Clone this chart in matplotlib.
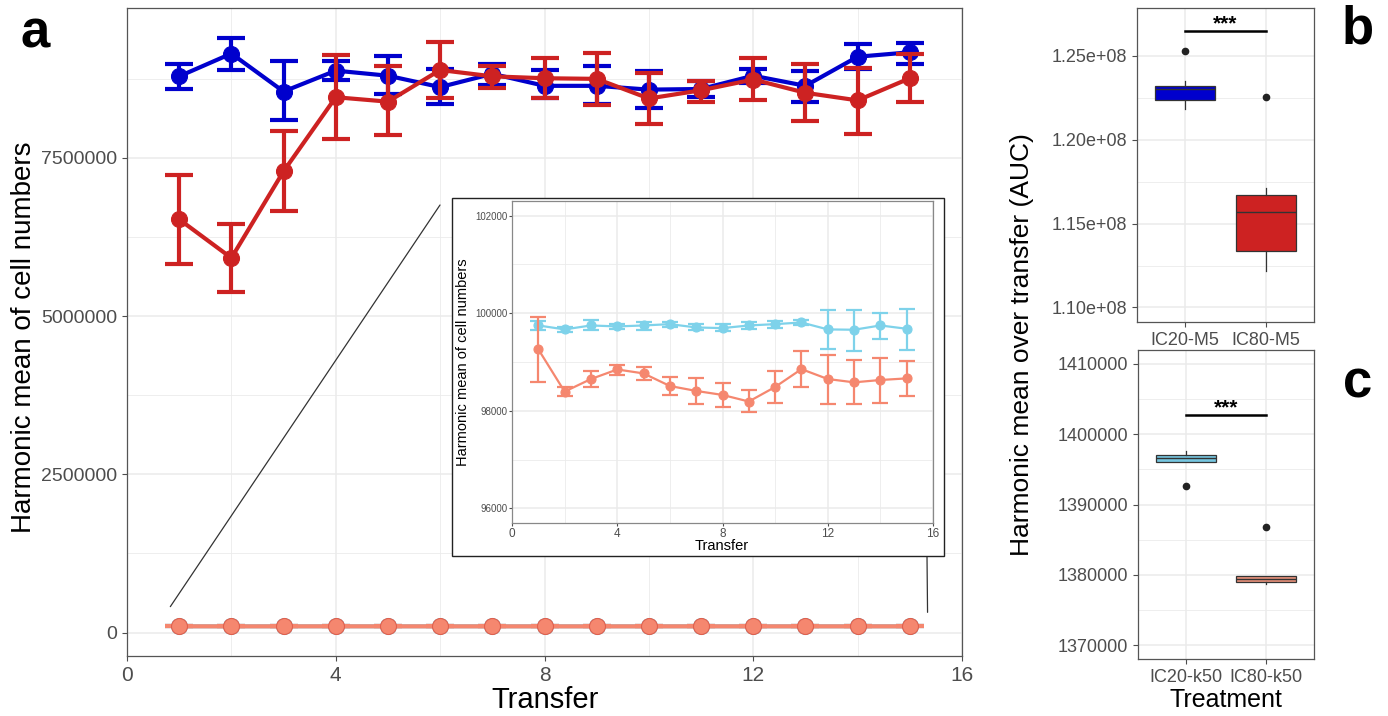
import matplotlib
matplotlib.use("Agg")
import matplotlib.pyplot as plt
from matplotlib.patches import Rectangle, ConnectionPatch
from matplotlib.ticker import FixedLocator
import numpy as np

plt.rcParams['font.family'] = ['Liberation Sans', 'DejaVu Sans']

# ---------------- data ----------------
transfer = list(range(1, 16))

# M5 medium: harmonic mean of cell numbers per transfer (mean, lower, upper)
ic20_m5_mean = [8.79e6, 9.15e6, 8.55e6, 8.88e6, 8.80e6, 8.62e6, 8.83e6, 8.64e6,
                8.64e6, 8.58e6, 8.59e6, 8.80e6, 8.64e6, 9.10e6, 9.17e6]
ic20_m5_lo = [8.59e6, 8.89e6, 8.10e6, 8.74e6, 8.51e6, 8.35e6, 8.66e6, 8.45e6,
              8.35e6, 8.29e6, 8.46e6, 8.69e6, 8.39e6, 8.90e6, 8.99e6]
ic20_m5_hi = [8.99e6, 9.39e6, 9.03e6, 9.03e6, 9.11e6, 8.91e6, 8.98e6, 8.89e6,
              8.95e6, 8.87e6, 8.72e6, 8.90e6, 8.87e6, 9.30e6, 9.31e6]

ic80_m5_mean = [6.53e6, 5.92e6, 7.29e6, 8.46e6, 8.39e6, 8.89e6, 8.79e6, 8.76e6,
                8.75e6, 8.44e6, 8.57e6, 8.74e6, 8.53e6, 8.41e6, 8.76e6]
ic80_m5_lo = [5.83e6, 5.38e6, 6.67e6, 7.80e6, 7.87e6, 8.44e6, 8.60e6, 8.45e6,
              8.34e6, 8.03e6, 8.38e6, 8.42e6, 8.08e6, 7.88e6, 8.39e6]
ic80_m5_hi = [7.23e6, 6.46e6, 7.92e6, 9.13e6, 8.95e6, 9.34e6, 8.95e6, 9.08e6,
              9.16e6, 8.85e6, 8.71e6, 9.08e6, 8.98e6, 8.92e6, 9.14e6]

# k50 medium
ic20_k50_mean = [99749, 99668, 99749, 99729, 99749, 99776, 99708, 99695,
                 99749, 99776, 99810, 99668, 99661, 99749, 99681]
ic20_k50_lo = [99647, 99614, 99647, 99668, 99661, 99715, 99647, 99627,
               99668, 99702, 99756, 99275, 99234, 99478, 99254]
ic20_k50_hi = [99837, 99715, 99864, 99783, 99817, 99830, 99776, 99769,
               99817, 99837, 99858, 100061, 100068, 100007, 100095]

ic80_k50_mean = [99261, 98393, 98651, 98847, 98766, 98508, 98407, 98325,
                 98190, 98488, 98854, 98651, 98583, 98631, 98664]
ic80_k50_lo = [98597, 98305, 98481, 98732, 98637, 98325, 98136, 98081,
               97966, 98163, 98481, 98142, 98142, 98169, 98305]
ic80_k50_hi = [99919, 98495, 98814, 98942, 98895, 98685, 98678, 98576,
               98427, 98820, 99234, 99153, 99031, 99092, 99024]

# AUC box summaries: [whisker low, q1, median, q3, whisker high], outliers
m5_groups = ["IC20-M5", "IC80-M5"]
m5_box = [[1.2185e8, 1.2238e8, 1.2304e8, 1.2321e8, 1.2351e8],
          [1.1216e8, 1.1339e8, 1.1571e8, 1.1673e8, 1.1714e8]]
m5_outliers = [[1.2532e8], [1.2254e8]]

k50_groups = ["IC20-k50", "IC80-k50"]
k50_box = [[1396117, 1396117, 1396643, 1397112, 1397681],
           [1378725, 1379061, 1379445, 1379815, 1379815]]
k50_outliers = [[1392603], [1386771]]

m5_signif_y = 1.2651e8
k50_signif_y = 1402760

# ---------------- style ----------------
BLUE = "#0000CD"
RED = "#CD2222"
SKY = "#7ED2EA"
SALMON = "#F5876F"
GRID = "#EBEBEB"
BORDER = "#555555"
TICKC = "#4D4D4D"


def bw_axes(ax, tick_size, major_x=None, minor_x=None, major_y=None, minor_y=None):
    ax.set_facecolor("white")
    for s in ax.spines.values():
        s.set_color(BORDER)
        s.set_linewidth(0.9)
    ax.tick_params(colors=TICKC, labelsize=tick_size, length=3.5, width=0.8,
                   labelcolor=TICKC)
    ax.tick_params(which="minor", length=0)
    if major_x is not None:
        ax.xaxis.set_major_locator(FixedLocator(major_x))
    if minor_x is not None:
        ax.xaxis.set_minor_locator(FixedLocator(minor_x))
    if major_y is not None:
        ax.yaxis.set_major_locator(FixedLocator(major_y))
    if minor_y is not None:
        ax.yaxis.set_minor_locator(FixedLocator(minor_y))
    ax.grid(True, which="major", color=GRID, lw=1.1)
    ax.grid(True, which="minor", color=GRID, lw=0.6)
    ax.set_axisbelow(True)


def series(ax, x, mean, lo, hi, color, lw, ms, cap, mec=None, z=3):
    mean = np.asarray(mean, float)
    yerr = [mean - np.asarray(lo, float), np.asarray(hi, float) - mean]
    ax.errorbar(x, mean, yerr=yerr, fmt="none", ecolor=color, elinewidth=lw,
                capsize=cap, capthick=lw, zorder=z)
    ax.plot(x, mean, color=color, lw=lw, zorder=z + 0.1)
    ax.plot(x, mean, "o", color=color, ms=ms, mec=mec if mec else color,
            mew=0.8, zorder=z + 0.2)


fig = plt.figure(figsize=(13.88, 7.16), dpi=100)

# ---------------- panel a ----------------
ax = fig.add_axes([127 / 1388, 1 - 656 / 716, 835 / 1388, 648 / 716])
ax.set_xlim(0, 16)
ax.set_ylim(-0.37e6, 9.87e6)
bw_axes(ax, 14, major_x=[0, 4, 8, 12, 16], minor_x=[2, 6, 10, 14],
        major_y=[0, 2.5e6, 5e6, 7.5e6], minor_y=[1.25e6, 3.75e6, 6.25e6, 8.75e6])
ax.set_yticklabels(["0", "2500000", "5000000", "7500000"])
ax.tick_params(axis="x", labelsize=15)

series(ax, transfer, ic20_m5_mean, ic20_m5_lo, ic20_m5_hi, BLUE, 3.0, 11.5, 10, z=3)
series(ax, transfer, ic80_m5_mean, ic80_m5_lo, ic80_m5_hi, RED, 3.0, 11.5, 10, z=4)
series(ax, transfer, ic20_k50_mean, ic20_k50_lo, ic20_k50_hi, SKY, 3.0, 11.5, 10, z=5)
series(ax, transfer, ic80_k50_mean, ic80_k50_lo, ic80_k50_hi, SALMON, 3.0, 11.5, 10,
       mec="#E0604E", z=6)

fig.text(24 / 1388, 1 - 337 / 716, "Harmonic mean of cell numbers", rotation=90,
         ha="center", va="center", fontsize=20)
fig.text(545 / 1388, 1 - 700 / 716, "Transfer", ha="center", va="center", fontsize=21)
fig.text(35 / 1388, 1 - 33 / 716, "a", ha="center", va="center", fontsize=38,
         fontweight="bold")

# ---------------- inset (k50 zoom) ----------------
frame = Rectangle((452 / 1388, 1 - 556 / 716), 492 / 1388, 358 / 716,
                  transform=fig.transFigure, facecolor="white", edgecolor="#222222",
                  lw=1.0, zorder=10)
fig.patches.append(frame)

ins = fig.add_axes([512 / 1388, 1 - 523 / 716, 421 / 1388, 322 / 716], zorder=11)
ins.set_xlim(0, 16)
ins.set_ylim(95700, 102300)
bw_axes(ins, 7, major_x=[0, 4, 8, 12, 16], minor_x=[2, 6, 10, 14],
        major_y=[96000, 98000, 100000, 102000], minor_y=[97000, 99000, 101000])
for s in ins.spines.values():
    s.set_color("#888888")
ins.tick_params(axis="x", labelsize=8.5, length=2, pad=1.5)
ins.tick_params(axis="y", length=2, pad=1.5)
series(ins, transfer, ic20_k50_mean, ic20_k50_lo, ic20_k50_hi, SKY, 1.6, 6.5, 6, z=3)
series(ins, transfer, ic80_k50_mean, ic80_k50_lo, ic80_k50_hi, SALMON, 1.6, 6.5, 6, z=4)
fig.text(463 / 1388, 1 - 362 / 716, "Harmonic mean of cell numbers", rotation=90,
         ha="center", va="center", fontsize=10.5, zorder=12)
fig.text(722 / 1388, 1 - 546 / 716, "Transfer", ha="center", va="center",
         fontsize=10.5, zorder=12)

# connector lines from the k50 series to the inset
for xy_data, xy_fig in [((0.83, 0.41e6), (440 / 1388, 1 - 205 / 716)),
                        ((15.34, 0.32e6), (927 / 1388, 1 - 556 / 716))]:
    con = ConnectionPatch(xyA=xy_data, coordsA=ax.transData,
                          xyB=xy_fig, coordsB=fig.transFigure,
                          color="#333333", lw=0.9, zorder=9)
    fig.add_artist(con)


# ---------------- panels b and c ----------------
def box_panel(rect, groups, box, outliers, colors, ylim, yticks, yminor, labels,
              signif_y, star_offset):
    bx = fig.add_axes(rect)
    bx.set_xlim(0.4, 2.6)
    bx.set_ylim(*ylim)
    bw_axes(bx, 13, major_x=[1, 2], major_y=yticks, minor_y=yminor)
    stats = []
    for g, b, o in zip(groups, box, outliers):
        stats.append(dict(label=g, whislo=b[0], q1=b[1], med=b[2], q3=b[3],
                          whishi=b[4], fliers=o))
    parts = bx.bxp(stats, positions=[1, 2], widths=0.75, patch_artist=True,
                   showcaps=False, manage_ticks=False,
                   boxprops=dict(edgecolor="#333333", lw=0.9),
                   whiskerprops=dict(color="#333333", lw=0.9),
                   medianprops=dict(color="#333333", lw=1.0),
                   flierprops=dict(marker="o", markerfacecolor="#222222",
                                   markeredgecolor="#222222", markersize=4.5))
    for p, c in zip(parts["boxes"], colors):
        p.set_facecolor(c)
    bx.set_xticks([1, 2])
    bx.set_xticklabels(groups)
    bx.tick_params(axis="x", labelsize=13)
    bx.set_yticklabels(labels)
    bx.plot([1, 2], [signif_y, signif_y], color="black", lw=1.8)
    bx.annotate("***", xy=(1.5, signif_y), xytext=(0, star_offset),
                textcoords="offset points", ha="center", va="bottom",
                fontsize=15, fontweight="bold")
    return bx


bax = box_panel([1137 / 1388, 1 - 322 / 716, 177 / 1388, 314 / 716],
                m5_groups, m5_box, m5_outliers, [BLUE, RED],
                (1.0913e8, 1.2786e8),
                [1.10e8, 1.15e8, 1.20e8, 1.25e8],
                [1.125e8, 1.175e8, 1.225e8],
                ["1.10e+08", "1.15e+08", "1.20e+08", "1.25e+08"],
                m5_signif_y, -2)

cax = box_panel([1138 / 1388, 1 - 659 / 716, 176 / 1388, 309 / 716],
                k50_groups, k50_box, k50_outliers, ["#76C6E0", "#E8917A"],
                (1368050, 1411990),
                [1370000, 1380000, 1390000, 1400000, 1410000],
                [1375000, 1385000, 1395000, 1405000],
                ["1370000", "1380000", "1390000", "1400000", "1410000"],
                k50_signif_y, -2)

fig.text(1022 / 1388, 1 - 345 / 716, "Harmonic mean over transfer (AUC)",
         rotation=90, ha="center", va="center", fontsize=19)
fig.text(1226 / 1388, 1 - 700 / 716, "Treatment", ha="center", va="center",
         fontsize=18)
fig.text(1358 / 1388, 1 - 30 / 716, "b", ha="center", va="center", fontsize=38,
         fontweight="bold")
fig.text(1358 / 1388, 1 - 384 / 716, "c", ha="center", va="center", fontsize=38,
         fontweight="bold")

fig.savefig("out.png", dpi=100, facecolor="white")
